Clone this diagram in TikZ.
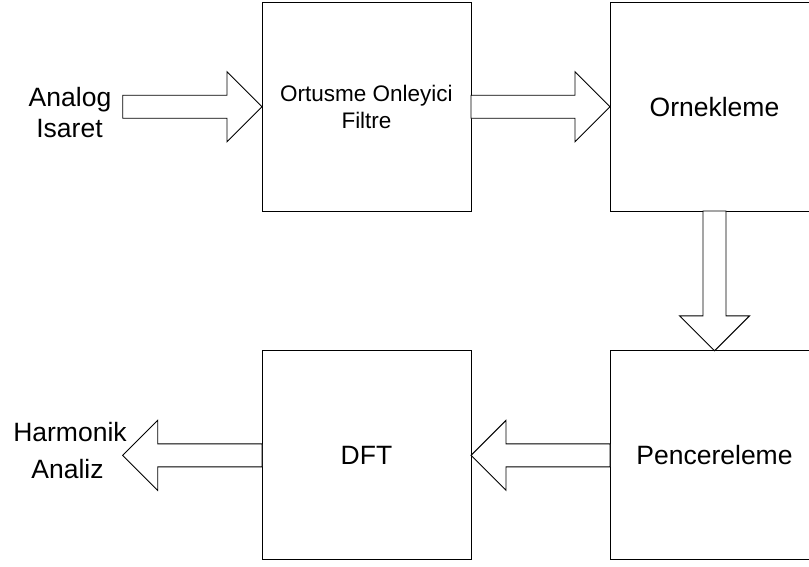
\documentclass[tikz,border=0pt]{standalone}
\usepackage{fontspec}
\setmainfont{Liberation Sans}
\usetikzlibrary{calc}

% Hollow block arrow from #1 to #2 (tip at #2)
\newcommand\blockarrow[2]{%
  \coordinate (ba-h) at ($(#2)!35pt!(#1)$);
  \draw[barrow]
    ($(#1)!11.5pt!90:(#2)$) --
    ($(ba-h)!11.5pt!-90:(#1)$) --
    ($(ba-h)!35pt!-90:(#1)$) --
    (#2) --
    ($(ba-h)!35pt!90:(#1)$) --
    ($(ba-h)!11.5pt!90:(#1)$) --
    ($(#1)!11.5pt!-90:(#2)$) -- cycle;
}

\begin{document}
\begin{tikzpicture}[x=1pt,y=-1pt,
  block/.style={draw=black, line width=0.9pt, outer sep=0pt, inner sep=0pt,
    minimum width=209pt, minimum height=209pt,
    font=\fontsize{26.5}{31}\selectfont, align=center},
  smalltext/.style={font=\fontsize{22.5}{26.7}\selectfont},
  barrow/.style={draw=black, fill=white, line width=0.9pt, line join=miter},
  lbl/.style={anchor=base, inner sep=0pt, font=\fontsize{26.5}{31}\selectfont}]

\useasboundingbox (0,0) rectangle (809,566);
\clip (0,0) rectangle (809,566);

% processing blocks
\node[block, smalltext, minimum height=208.5pt] (filt) at (366.5,106.75) {Ortusme Onleyici\\Filtre};
\node[block, minimum height=208.5pt] (orn) at (714.5,106.75) {Ornekleme};
\node[block] (pen) at (714.5,455.35) {Pencereleme};
\node[block] (dft) at (366.5,455.35) {DFT};

% free ends of the input and output arrows
\coordinate (in) at (122.7,106.75);
\coordinate (out) at (122.7,455.35);

% signal flow
\blockarrow{in}{filt.west}
\blockarrow{filt.east}{orn.west}
\blockarrow{orn.south}{pen.north}
\blockarrow{pen.west}{dft.east}
\blockarrow{dft.west}{out}

% input and output labels
\node[lbl] (analog) at (70,106.5) {Analog};
\node[lbl] (isaret) at (69.5,137.7) {Isaret};
\node[lbl] (harm) at (70,441.7) {Harmonik};
\node[lbl] (analiz) at (67.5,478.3) {Analiz};
\end{tikzpicture}
\end{document}
